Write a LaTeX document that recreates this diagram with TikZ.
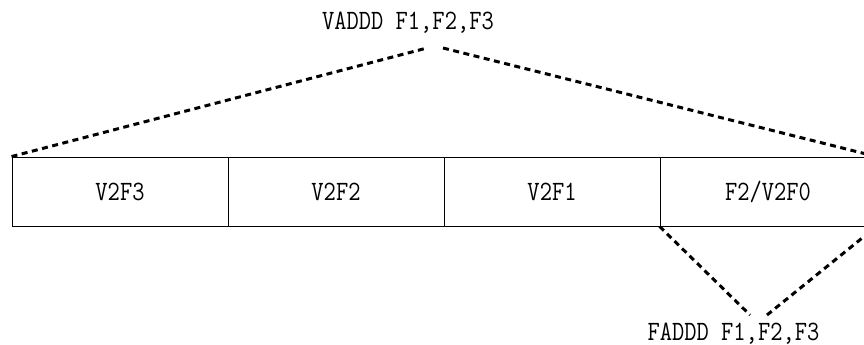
\documentclass[tikz,border=0pt]{standalone}
\usepackage{fontspec}
\setmonofont{Latin Modern Mono}[FakeStretch=0.85]
\begin{document}
\begin{tikzpicture}[x=1pt,y=-1pt,
  cell/.style={draw,line width=0.9pt,minimum width=216pt,minimum height=69pt,
    inner sep=0pt,font=\fontsize{28}{28}\ttfamily},
  asmtext/.style={font=\fontsize{28}{28}\ttfamily,inner sep=0pt,anchor=base},
  dotline/.style={line width=3pt,dash pattern=on 6pt off 4.5pt}]
\useasboundingbox (0,0) rectangle (864,345);
\foreach \name/\txt [count=\i from 0] in {c3/V2F3,c2/V2F2,c1/V2F1}{
  \node[cell] (\name) at (120+216*\i,191.5) {\txt};
}
\node[cell] (c0) at (768,191.5) {F2/V2F0};

\node[asmtext] (vadd) at (408,30) {VADDD F1,F2,F3};
\node[asmtext] (fadd) at (733.5,340) {FADDD F1,F2,F3};

\coordinate (vtopl) at (427,48);
\coordinate (vtopr) at (443,48);
\coordinate (fbotl) at (750,315);
\coordinate (fbotr) at (767,315);

\draw[dotline] (c3.north west) -- (vtopl);
\draw[dotline] (vtopr) -- (c0.north east);
\draw[dotline] (c0.south west) -- (fbotl);
\draw[dotline] (fbotr) -- (c0.south east);
\end{tikzpicture}
\end{document}
